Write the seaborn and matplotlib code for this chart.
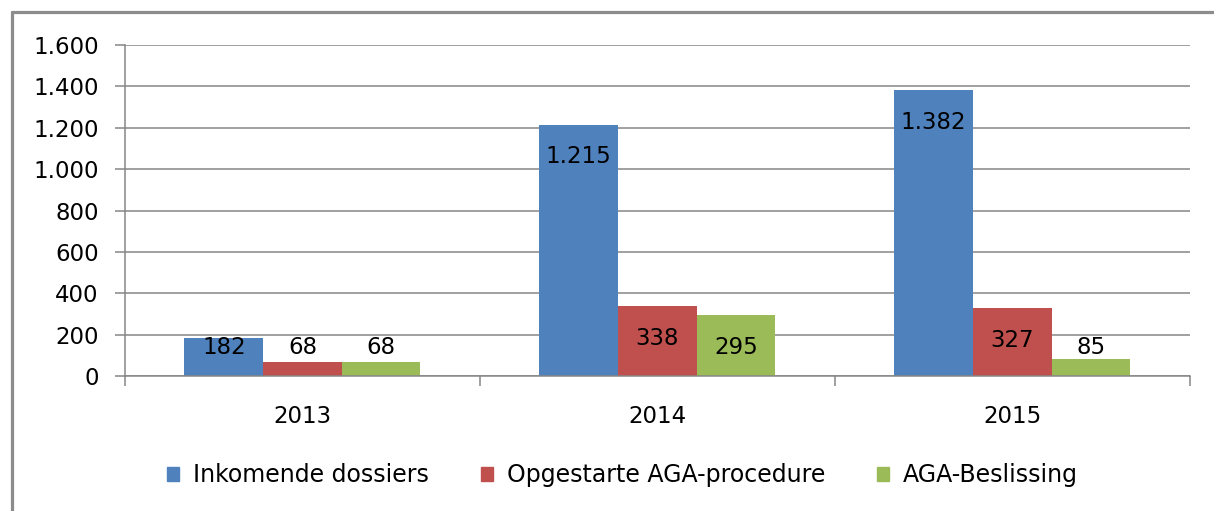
import pandas as pd
import seaborn as sns
import matplotlib.pyplot as plt
from matplotlib.lines import Line2D
from matplotlib.ticker import FuncFormatter, MultipleLocator

years = ['2013', '2014', '2015']
series = ['Inkomende dossiers', 'Opgestarte AGA-procedure', 'AGA-Beslissing']
inkomend = [182, 1215, 1382]
opgestart = [68, 338, 327]
beslissing = [68, 295, 85]
colors = ['#4F81BD', '#C0504D', '#9BBB59']

df = pd.DataFrame({
    'Jaar': years * 3,
    'Reeks': [series[0]] * 3 + [series[1]] * 3 + [series[2]] * 3,
    'Aantal': inkomend + opgestart + beslissing,
})

sns.set_style('white')
plt.rcParams['font.family'] = ['DejaVu Sans']
plt.rcParams['text.color'] = 'black'

def nl_thousands(v, pos=None):
    return f'{int(v):,}'.replace(',', '.')

fig = plt.figure(figsize=(12.14, 5.11), dpi=100)
ax = fig.add_axes([0.103, 0.264, 0.877, 0.648])

sns.barplot(data=df, x='Jaar', y='Aantal', hue='Reeks', hue_order=series,
            palette=colors, width=0.665, gap=0, saturation=1, ax=ax,
            edgecolor='none', linewidth=0)

ax.set_ylim(0, 1600)
ax.set_xlim(-0.5, 2.5)
ax.yaxis.set_major_locator(MultipleLocator(200))
ax.yaxis.set_major_formatter(FuncFormatter(nl_thousands))
ax.grid(axis='y', color='#868686', linewidth=1.1)
ax.set_axisbelow(True)
ax.set_xlabel('')
ax.set_ylabel('')

for side in ['top', 'right']:
    ax.spines[side].set_visible(False)
for side in ['left', 'bottom']:
    ax.spines[side].set_color('#868686')
    ax.spines[side].set_linewidth(1.1)

ax.tick_params(axis='y', length=7, width=1.1, color='#868686', pad=12,
               labelsize=16.5, labelcolor='black', left=True)
ax.tick_params(axis='x', which='major', length=0, pad=21, labelsize=16.5,
               labelcolor='black')
ax.set_xticks([-0.5, 0.5, 1.5, 2.5], minor=True)
ax.tick_params(axis='x', which='minor', length=7, width=1.1, color='#868686',
               bottom=True)

# data labels: inside end, clamped near the baseline for short bars
for cont in ax.containers:
    for bar in cont:
        v = bar.get_height()
        xc = bar.get_x() + bar.get_width() / 2
        ax.annotate(nl_thousands(v), (xc, max(v, 295)), xytext=(0, -15),
                    textcoords='offset points', ha='center', va='top',
                    fontsize=16.5, color='black')

handles = [plt.Rectangle((0, 0), 1, 1, color=c) for c in colors]
leg = ax.legend(handles, series, loc='center', bbox_to_anchor=(0.513, 0.07),
                bbox_transform=fig.transFigure, ncol=3, frameon=False,
                fontsize=17, handlelength=0.5, handleheight=0.5,
                handletextpad=0.6, columnspacing=2.2)
for t in leg.get_texts():
    t.set_color('black')

# cropped chart frame (top and left edge)
fig.add_artist(Line2D([12 / 1214, 1], [1 - 12.5 / 511, 1 - 12.5 / 511],
                      transform=fig.transFigure, color='#8c8c8c', linewidth=2.3))
fig.add_artist(Line2D([12.5 / 1214, 12.5 / 1214], [0, 1 - 12.5 / 511],
                      transform=fig.transFigure, color='#8c8c8c', linewidth=2.3))

fig.savefig('out.png', dpi=100)
